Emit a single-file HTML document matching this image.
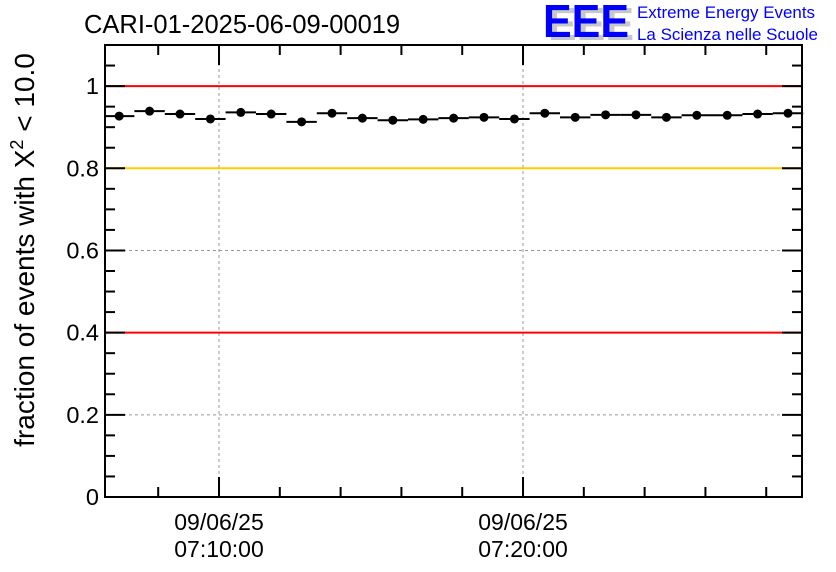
<!DOCTYPE html>
<html><head><meta charset="utf-8"><style>
body{margin:0;background:#fff;}
svg{display:block;font-family:"Liberation Sans",sans-serif;}
</style></head><body>
<svg id="c" width="836" height="572" xmlns="http://www.w3.org/2000/svg">
<text x="84" y="33" font-size="25.5">CARI-01-2025-06-09-00019</text>
<g>
<text x="548" y="40" font-size="46" font-weight="bold" fill="#c8c8c8" textLength="86" lengthAdjust="spacingAndGlyphs">EEE</text>
<text x="543" y="37" font-size="46" font-weight="bold" fill="#0000ff" textLength="86" lengthAdjust="spacingAndGlyphs">EEE</text>
<text x="637" y="18" font-size="17" fill="#0000ff" textLength="178" lengthAdjust="spacingAndGlyphs">Extreme Energy Events</text>
<text x="637" y="40" font-size="17" fill="#0000ff" textLength="181" lengthAdjust="spacingAndGlyphs">La Scienza nelle Scuole</text>
</g>
<text transform="translate(34,250) rotate(-90)" text-anchor="middle" font-size="28">fraction of events with X<tspan dy="-11" font-size="18">2</tspan><tspan dy="11"> &lt; 10.0</tspan></text>
<g id="plot"></g>
</svg>
<script>
const times=[403,463,523,583,643,703,763,823,883,943,1003,1063,1123,1183,1243,1303,1363,1423,1483,1543,1603,1663,1723];
const values=[0.927,0.939,0.932,0.920,0.936,0.932,0.913,0.934,0.922,0.917,0.919,0.922,0.924,0.920,0.934,0.924,0.930,0.930,0.924,0.929,0.929,0.932,0.934];
const yTicks=[0,0.2,0.4,0.6,0.8,1];
const yTickLabels=["0","0.2","0.4","0.6","0.8","1"];
const xMajor=[600,1200];
const xMajorLabels=[["09/06/25","07:10:00"],["09/06/25","07:20:00"]];
const refLines=[[1,"#ff0000"],[0.8,"#ffcc00"],[0.4,"#ff0000"]];
const L=105,R=802,T=45,B=497,tMin=375,tMax=1750.6,yMax=1.1;
const X=t=>L+(t-tMin)/(tMax-tMin)*(R-L);
const Y=v=>B-v/yMax*(B-T);
const g=document.getElementById('plot');
const NS='http://www.w3.org/2000/svg';
function mk(tag,a){const e=document.createElementNS(NS,tag);for(const k in a)e.setAttribute(k,a[k]);g.appendChild(e);return e;}
for(const t of xMajor){const e=mk('line',{x1:X(t),x2:X(t),y1:T,y2:B,stroke:'#999','stroke-dasharray':'3,3'});

}
for(const v of yTicks){if(v===0)continue;const e=mk('line',{x1:L,x2:R,y1:Y(v),y2:Y(v),stroke:'#999','stroke-dasharray':'3,3'});

}
for(const [v,c] of refLines){const e=mk('line',{x1:L,x2:R,y1:Y(v),y2:Y(v),stroke:c,'stroke-width':2});

}
const fr=mk('rect',{x:L,y:T,width:R-L,height:B-T,fill:'none',stroke:'#000','stroke-width':2});


for(let i=0;i<=22;i++){const v=i*0.05;const major=i%4===0;const len=major?20:10;const y=Y(v);
mk('line',{x1:L,x2:L+len,y1:y,y2:y,stroke:'#000','stroke-width':2});
mk('line',{x1:R,x2:R-len,y1:y,y2:y,stroke:'#000','stroke-width':2});}
yTicks.forEach((v,i)=>{const e=mk('text',{x:L-6,y:Y(v)+8,'text-anchor':'end','font-size':23.5});e.textContent=yTickLabels[i];

});
for(let t=480;t<tMax;t+=120){const major=(t%600)===0;const len=major?20:10;const x=X(t);
mk('line',{x1:x,x2:x,y1:B,y2:B-len,stroke:'#000','stroke-width':2});
mk('line',{x1:x,x2:x,y1:T,y2:T+len,stroke:'#000','stroke-width':2});}
xMajor.forEach((t,i)=>{for(let k=0;k<2;k++){const e=mk('text',{x:X(t),y:530+k*27,'text-anchor':'middle','font-size':23});e.textContent=xMajorLabels[i][k];

}});
times.forEach((t,i)=>{const x=X(t),y=Y(values[i]);
const l=mk('line',{x1:X(t-30),x2:X(t+30),y1:y,y2:y,stroke:'#000','stroke-width':2});


const c=mk('circle',{cx:x,cy:y,r:4.5,fill:'#000'});

});
</script>
</body></html>
